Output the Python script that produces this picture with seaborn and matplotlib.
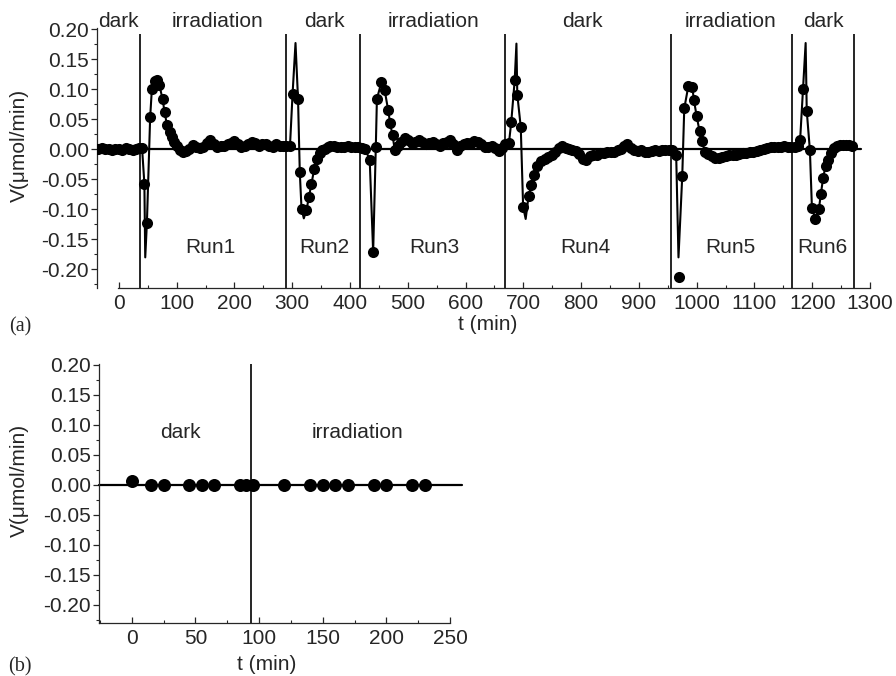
import matplotlib
matplotlib.use("Agg")
import matplotlib.pyplot as plt
import numpy as np
import pandas as pd
import seaborn as sns
from matplotlib.ticker import MultipleLocator, FormatStrFormatter

# ---------------- data: panel (a) ----------------
t_pre = [-36, -30, -24, -18, -12, -6, 0, 6, 12, 18, 24, 30, 35, 40]
v_pre = [0.001, 0.002, 0.0, 0.001, -0.002, 0.001, 0.0, -0.001, 0.002, 0.001, -0.001, 0.001, 0.002, 0.002]

t_run1 = [44, 48.4, 54, 57, 62.5, 66, 70, 75.6, 79, 83,
          87.6, 91.7, 95.7, 100, 106, 111, 116, 122, 128, 134,
          140, 146, 152, 158, 164, 170, 176, 182, 188, 194,
          200, 206, 212, 218, 224, 230, 236, 242, 248, 254,
          260, 266, 272, 278, 284, 290, 296]
v_run1 = [-0.057, -0.122, 0.053, 0.101, 0.113, 0.115, 0.107, 0.083, 0.062, 0.041,
          0.029, 0.02, 0.012, 0.005, -0.001, -0.004, -0.003, 0.0, 0.007, 0.004,
          0.002, 0.004, 0.01, 0.015, 0.008, 0.004, 0.006, 0.006, 0.008, 0.01,
          0.013, 0.008, 0.004, 0.006, 0.008, 0.012, 0.01, 0.006, 0.008, 0.008,
          0.006, 0.004, 0.008, 0.005, 0.005, 0.006, 0.005]

t_run2 = [300.5, 310, 313, 316, 324.6, 328.7, 333, 338, 342.5, 347.5,
          352, 356, 361, 366, 372, 378, 384, 390, 396, 402,
          408, 414, 420, 426]
v_run2 = [0.092, 0.083, -0.038, -0.099, -0.101, -0.08, -0.057, -0.033, -0.016, -0.007,
          -0.002, 0.001, 0.004, 0.006, 0.005, 0.004, 0.004, 0.003, 0.006, 0.004,
          0.003, 0.003, 0.002, 0.0]

t_run3 = [434, 440, 444.6, 446.5, 454.4, 460, 466, 469.5, 473.5, 477.5,
          483, 489, 495, 501, 507, 513, 519, 525, 531, 537,
          543, 549, 555, 561, 567, 573, 579, 585, 591, 597,
          603, 609, 615, 621, 627, 633, 639, 645, 651, 657,
          663]
v_run3 = [-0.017, -0.171, 0.004, 0.084, 0.112, 0.098, 0.065, 0.043, 0.023, -0.001,
          0.005, 0.012, 0.018, 0.015, 0.01, 0.012, 0.016, 0.012, 0.008, 0.01,
          0.012, 0.008, 0.006, 0.01, 0.012, 0.015, 0.008, -0.002, 0.006, 0.008,
          0.01, 0.01, 0.013, 0.012, 0.008, 0.004, 0.003, 0.006, 0.002, -0.003,
          0.002]

t_run4 = [669, 675, 679, 685, 689.5, 695.5, 699.6, 709, 714, 718,
          724, 731, 737, 743, 749, 755, 761, 767, 773, 779,
          785, 791, 797, 803, 809, 815, 821, 827, 833, 839,
          845, 851, 857, 863, 869, 875, 880, 886, 892, 898,
          904, 910, 916, 922, 928, 934, 940, 946, 952]
v_run4 = [0.008, 0.01, 0.045, 0.115, 0.091, 0.037, -0.096, -0.078, -0.059, -0.042,
          -0.027, -0.02, -0.016, -0.013, -0.009, -0.004, 0.002, 0.005, 0.002, 0.0,
          -0.002, -0.003, -0.008, -0.016, -0.017, -0.012, -0.01, -0.01, -0.007, -0.006,
          -0.005, -0.004, -0.004, -0.002, 0.0, 0.006, 0.009, 0.002, -0.001, -0.003,
          -0.002, -0.004, -0.004, -0.003, -0.002, -0.003, -0.002, -0.001, -0.001]

t_run5 = [958, 964.5, 975, 978.5, 985.5, 992.5, 995.2, 1000, 1005, 1009.5,
          1014, 1020, 1026, 1032, 1038, 1044, 1050, 1056, 1062, 1068,
          1074, 1080, 1086, 1092, 1098, 1104, 1110, 1116, 1122, 1128,
          1134, 1140, 1146, 1152, 1158, 1164, 1170, 1175]
v_run5 = [-0.001, -0.009, -0.045, 0.068, 0.105, 0.103, 0.082, 0.055, 0.03, 0.013,
          -0.004, -0.008, -0.012, -0.014, -0.015, -0.013, -0.012, -0.01, -0.009, -0.009,
          -0.008, -0.007, -0.006, -0.004, -0.004, -0.003, -0.001, 0.001, 0.002, 0.003,
          0.004, 0.003, 0.004, 0.005, 0.004, 0.004, 0.004, 0.005]

t_run6 = [1179, 1184, 1190.5, 1196, 1199.5, 1205.5, 1211.6, 1215, 1219, 1223,
          1228, 1233, 1238.5, 1243, 1248, 1253, 1258, 1263, 1268]
v_run6 = [0.015, 0.101, 0.064, -0.002, -0.098, -0.116, -0.099, -0.074, -0.047, -0.028,
          -0.017, -0.007, 0.002, 0.006, 0.007, 0.007, 0.007, 0.007, 0.006]

# isolated point (not on the curve)
t_out = [970]
v_out = [-0.213]

# extremes reached by the drawn curve between measured points
t_curve_ext = [45.5, 305.6, 320, 688, 704, 968.5, 1188.6]
v_curve_ext = [-0.18, 0.177, -0.115, 0.176, -0.116, -0.18, 0.177]

bounds_a = [35.8, 289, 417, 668, 955, 1165, 1272]
phase_a = ["dark", "irradiation", "dark", "irradiation", "dark", "irradiation", "dark"]
phase_t_a = [-1, 170, 356, 545, 802, 1058, 1220]
runs = ["Run1", "Run2", "Run3", "Run4", "Run5", "Run6"]
run_t = [158, 355, 546, 807, 1058, 1217]

# ---------------- data: panel (b) ----------------
t_b = [0, 15, 25, 45, 55, 65, 85, 90, 95, 120, 140, 150, 160, 170, 190, 200, 220, 230]
v_b = [0.007, 0, 0, 0, 0, 0, 0, 0, 0, 0, 0, 0, 0, 0, 0, 0, 0, 0]
bound_b = [94]
phase_b = ["dark", "irradiation"]
phase_t_b = [38, 177]

# ---------------- style ----------------
sns.set_theme(style="ticks")
plt.rcParams["font.family"] = ["Liberation Sans", "DejaVu Sans"]
plt.rcParams["axes.unicode_minus"] = False
plt.rcParams["axes.linewidth"] = 0.9
FS = 15

pts = pd.DataFrame({
    "t": t_pre + t_run1 + t_run2 + t_run3 + t_run4 + t_run5 + t_run6,
    "v": v_pre + v_run1 + v_run2 + v_run3 + v_run4 + v_run5 + v_run6,
})
curve = pd.concat([pts, pd.DataFrame({"t": t_curve_ext, "v": v_curve_ext})]).sort_values("t")
outl = pd.DataFrame({"t": t_out, "v": v_out})
dfb = pd.DataFrame({"t": t_b, "v": v_b})

fig = plt.figure(figsize=(8.96, 6.76), dpi=100)
ax1 = fig.add_axes([97 / 896, 1 - 288 / 676, (870 - 97) / 896, 260 / 676])
ax2 = fig.add_axes([99 / 896, 1 - 623.3 / 676, (450 - 99) / 896, 259.5 / 676])

# ----- panel (a) -----
ax1.set_xlim(-38, 1300)
ax1.set_ylim(-0.231, 0.202)
ax1.axhline(0, xmin=0, xmax=0.989, color="black", lw=1.6, zorder=1)
ax1.vlines(bounds_a, -0.231, 0.192, color="black", lw=1.2, zorder=1)
sns.lineplot(data=curve, x="t", y="v", ax=ax1, color="black", lw=1.5,
             estimator=None, sort=True, zorder=2)
sns.scatterplot(data=pts, x="t", y="v", ax=ax1, s=64, color="black",
                edgecolor="black", linewidth=0, zorder=3)
sns.scatterplot(data=outl, x="t", y="v", ax=ax1, s=64, color="black",
                edgecolor="black", linewidth=0, zorder=3)
for lab, t in zip(phase_a, phase_t_a):
    ax1.text(t, 0.212, lab, ha="center", va="center", fontsize=FS)
for lab, t in zip(runs, run_t):
    ax1.text(t, -0.163, lab, ha="center", va="center", fontsize=FS)

ax1.xaxis.set_major_locator(MultipleLocator(100))
ax1.xaxis.set_minor_locator(MultipleLocator(50))
ax1.spines["bottom"].set_bounds(-2, 1300)

# ----- panel (b) -----
ax2.set_xlim(-25.7, 250)
ax2.set_ylim(-0.2305, 0.202)
ax2.axhline(0, xmin=0, xmax=1.033, color="black", lw=1.6, zorder=1, clip_on=False)
for b in bound_b:
    ax2.axvline(b, color="black", lw=1.2, zorder=1)
sns.scatterplot(data=dfb, x="t", y="v", ax=ax2, s=88, color="black",
                edgecolor="black", linewidth=0, zorder=3)
for lab, t in zip(phase_b, phase_t_b):
    ax2.text(t, 0.087, lab, ha="center", va="center", fontsize=FS)
ax2.xaxis.set_major_locator(MultipleLocator(50))
ax2.xaxis.set_minor_locator(MultipleLocator(25))

for ax in (ax1, ax2):
    sns.despine(ax=ax)
    ax.yaxis.set_major_locator(MultipleLocator(0.05))
    ax.yaxis.set_minor_locator(MultipleLocator(0.025))
    ax.yaxis.set_major_formatter(FormatStrFormatter("%.2f"))
    ax.tick_params(axis="y", which="major", direction="out", length=4, width=0.9,
                   labelsize=FS, pad=2)
    ax.tick_params(axis="y", which="minor", direction="out", length=2, width=0.8)
    ax.tick_params(axis="x", which="major", direction="in", length=4, width=0.9,
                   labelsize=FS, pad=4)
    ax.tick_params(axis="x", which="minor", direction="in", length=2.5, width=0.8)
    ax.set_ylabel("V(μmol/min)", fontsize=FS)
    ax.set_xlabel("t (min)", fontsize=FS)

ax1.xaxis.set_label_coords(0.505, -0.105)
ax1.yaxis.set_label_coords(-0.088, 0.55)
ax2.xaxis.set_label_coords(0.478, -0.122)
ax2.yaxis.set_label_coords(-0.199, 0.552)

fig.text(20 / 896, 1 - 327 / 676, "(a)", ha="center", va="center",
         family=["Liberation Serif", "DejaVu Serif"], fontsize=14.5)
fig.text(20 / 896, 1 - 667 / 676, "(b)", ha="center", va="center",
         family=["Liberation Serif", "DejaVu Serif"], fontsize=14.5)

fig.savefig("out.png", dpi=100)
